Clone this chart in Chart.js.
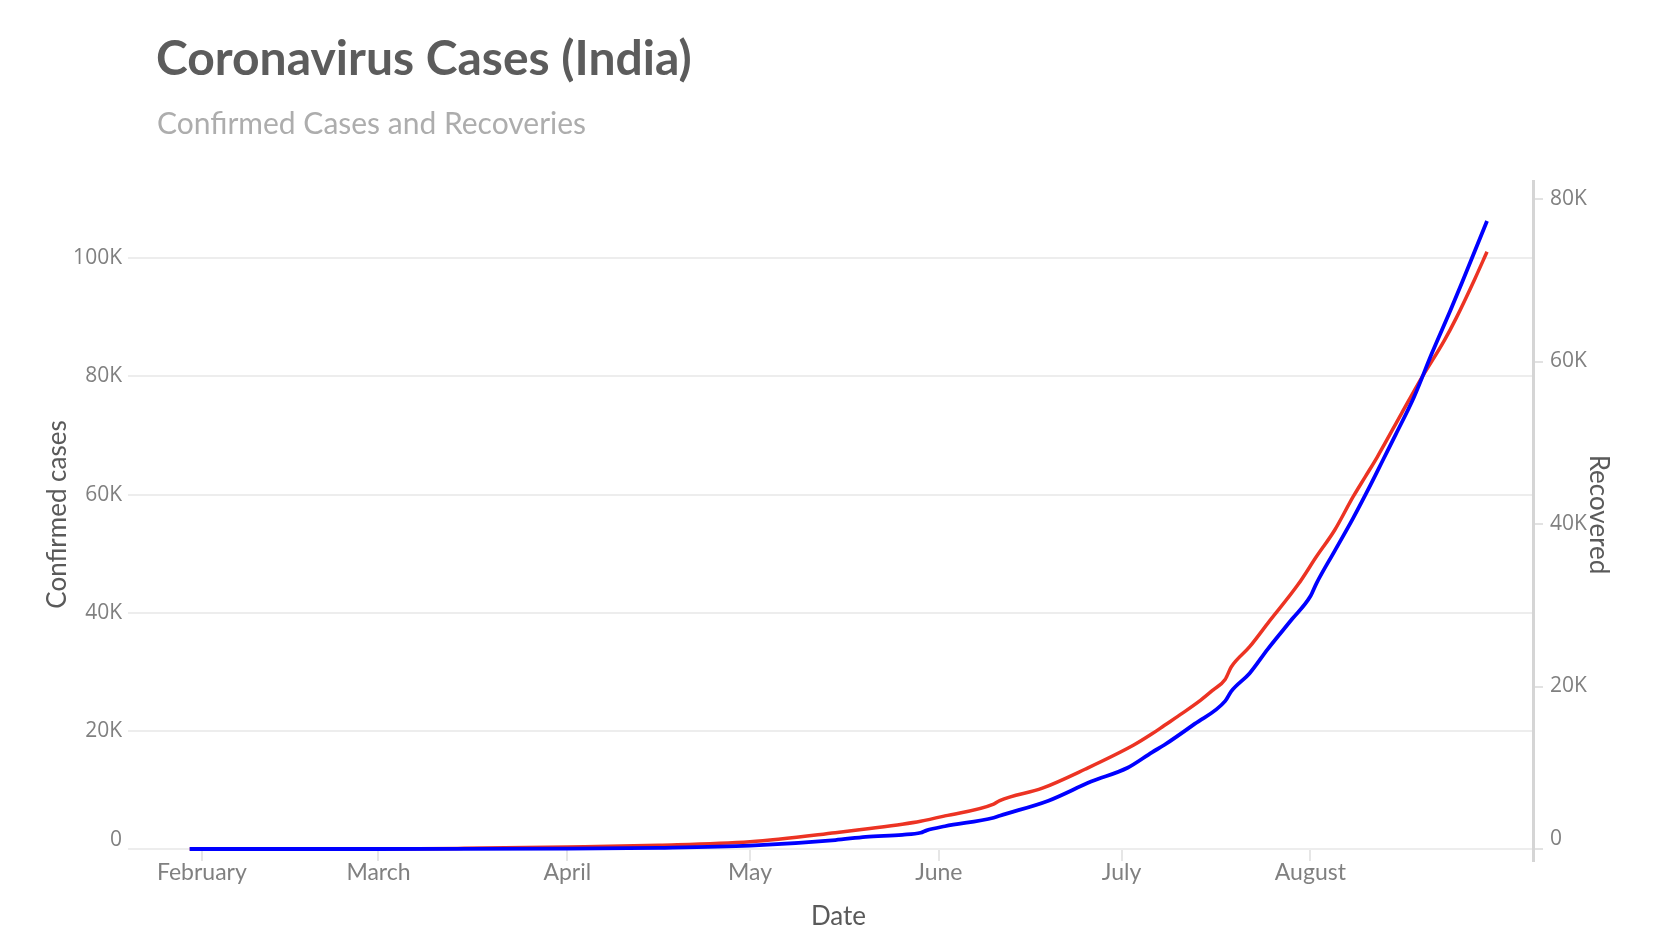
<!DOCTYPE html>
<html><head><meta charset="utf-8">
<script src="https://cdn.jsdelivr.net/npm/chart.js@4.4.0/dist/chart.umd.min.js"></script>
<style>
html,body{margin:0;padding:0;background:#fff;}
#wrap{position:relative;width:1666px;height:948px;overflow:hidden;}
#c{position:absolute;left:0;top:0;}
#title{position:absolute;left:156px;top:33px;font:700 48px/1 Lato,sans-serif;color:#5c5c5c;white-space:nowrap;}
#subtitle{position:absolute;left:157px;top:107px;font:400 30px/1 Lato,sans-serif;color:#adadad;white-space:nowrap;}
</style></head><body>
<div id="wrap">
<canvas id="c" width="1666" height="948"></canvas>
<div id="title">Coronavirus Cases (India)</div>
<div id="subtitle">Confirmed Cases and Recoveries</div>
</div>
<script>
// ---- data ----
const confirmedDates = ['2020-01-30','2020-03-01','2020-03-15','2020-04-01','2020-04-16','2020-05-01','2020-05-15','2020-05-20','2020-05-26','2020-05-29','2020-06-02','2020-06-10','2020-06-11','2020-06-18','2020-06-25','2020-07-03','2020-07-06','2020-07-08','2020-07-11','2020-07-14','2020-07-16','2020-07-18','2020-07-19','2020-07-22','2020-07-25','2020-07-30','2020-08-02','2020-08-05','2020-08-08','2020-08-10','2020-08-12','2020-08-16','2020-08-19','2020-08-23','2020-08-25','2020-08-28','2020-08-30'];
const confirmedValues = [1,3,110,350,650,1240,2760,3400,4200,4700,5600,7600,8200,10300,13500,17600,19500,20900,23000,25200,26900,28700,30800,34200,38200,44800,49500,54000,59600,63000,66400,73800,79300,86100,90000,96500,101100];

const recoveredDates = ['2020-01-30','2020-03-15','2020-04-01','2020-04-16','2020-05-01','2020-05-15','2020-05-20','2020-05-26','2020-05-29','2020-05-30','2020-06-02','2020-06-10','2020-06-11','2020-06-19','2020-06-26','2020-07-02','2020-07-06','2020-07-08','2020-07-13','2020-07-18','2020-07-19','2020-07-22','2020-07-25','2020-07-29','2020-08-01','2020-08-02','2020-08-05','2020-08-08','2020-08-11','2020-08-13','2020-08-15','2020-08-18','2020-08-21','2020-08-24','2020-08-26','2020-08-28','2020-08-30'];
const recoveredValues = [0,5,40,150,420,1100,1500,1750,2000,2300,2800,3850,4100,5950,8300,10000,11900,12800,15400,18200,19400,21600,24600,28300,31100,32700,36700,40700,45000,48000,51000,55600,61100,66300,69900,73600,77300];

const monthTickDates = ['2020-02-01','2020-03-01','2020-04-01','2020-05-01','2020-06-01','2020-07-01','2020-08-01'];
const monthTickLabels = ['February','March','April','May','June','July','August'];
const leftTicks = [0,20000,40000,60000,80000,100000];
const rightTicks = [0,20000,40000,60000,80000];
const xRange = ['2020-01-22','2020-09-06'];
const leftMax = 113250;
const rightMax = 82340;

// ---- helpers ----
function dayIndex(s){
  const p = s.split('-').map(Number);
  return (Date.UTC(p[0],p[1]-1,p[2]) - Date.UTC(2020,0,1))/86400000;
}
const fmtK = v => v === 0 ? ['0',''] : (v/1000) + 'K';

const rightAxisLine = {
  id:'rightAxisLine',
  afterDatasetsDraw(chart){
    const {ctx, chartArea:a} = chart;
    ctx.save();
    ctx.strokeStyle = '#d5d5d5';
    ctx.lineWidth = 3;
    ctx.beginPath();
    ctx.moveTo(a.right + 0.5, a.top);
    ctx.lineTo(a.right + 0.5, a.bottom + 13);
    ctx.stroke();
    ctx.restore();
  }
};

new Chart(document.getElementById('c'), {
  type:'line',
  data:{
    datasets:[
      {
        label:'Recovered',
        data: recoveredDates.map((d,i)=>({x:dayIndex(d), y:recoveredValues[i]})),
        yAxisID:'y1', borderColor:'#0000ff', borderWidth:3.8,
        pointRadius:0, cubicInterpolationMode:'monotone', clip:8, order:0
      },
      {
        label:'Confirmed cases',
        data: confirmedDates.map((d,i)=>({x:dayIndex(d), y:confirmedValues[i]})),
        yAxisID:'y', borderColor:'#ec3323', borderWidth:3.5,
        pointRadius:0, cubicInterpolationMode:'monotone', clip:8, order:1
      }
    ]
  },
  options:{
    responsive:false,
    animation:false,
    events:[],
    layout:{padding:{top:180,left:0,right:0,bottom:0}},
    plugins:{legend:{display:false}, tooltip:{enabled:false}, title:{display:false}},
    scales:{
      x:{
        type:'linear',
        min: dayIndex(xRange[0]) + 0.5,
        max: dayIndex(xRange[1]) + 0.55,
        afterBuildTicks: s => { s.ticks = monthTickDates.map(d=>({value:dayIndex(d)})); },
        afterFit: s => { s.height = 99; },
        grid:{drawOnChartArea:false, drawTicks:true, tickLength:12, color:'#e6e6e6', lineWidth:2},
        border:{display:false},
        ticks:{
          autoSkip:false, maxRotation:0, padding:0,
          callback:(v,i)=>monthTickLabels[i],
          color:'#808080', font:{family:'Lato', size:23, lineHeight:1}
        },
        title:{display:true, text:'Date', color:'#5a5a5a', font:{family:'Lato', size:26, lineHeight:1.2}, padding:{top:0,bottom:16}}
      },
      y:{
        type:'linear', position:'left',
        min:0, max:leftMax,
        afterBuildTicks: s => { s.ticks = leftTicks.map(v=>({value:v})); },
        afterFit: s => { s.width = 144; },
        grid:{color:'#ededed', lineWidth:2, tickLength:16, drawTicks:true},
        border:{display:false},
        ticks:{callback:fmtK, padding:6, color:'#808080', font:{family:'Open Sans', size:21, lineHeight:0.9}},
        title:{display:true, text:'Confirmed cases', color:'#5a5a5a', font:{family:'Lato', size:26, lineHeight:1.2}, padding:{top:42,bottom:0}}
      },
      y1:{
        type:'linear', position:'right',
        min:0, max:rightMax,
        afterBuildTicks: s => { s.ticks = rightTicks.map(v=>({value:v})); },
        afterFit: s => { s.width = 133; },
        grid:{drawOnChartArea:false, color:'#e2e2e2', lineWidth:2, tickLength:10, drawTicks:true},
        border:{display:false},
        ticks:{callback:fmtK, padding:7, color:'#808080', font:{family:'Open Sans', size:21, lineHeight:0.95}},
        title:{display:true, text:'Recovered', color:'#5a5a5a', font:{family:'Lato', size:26, lineHeight:1.2}, padding:{top:52,bottom:0}}
      }
    }
  },
  plugins:[rightAxisLine]
});
</script>
</body></html>
